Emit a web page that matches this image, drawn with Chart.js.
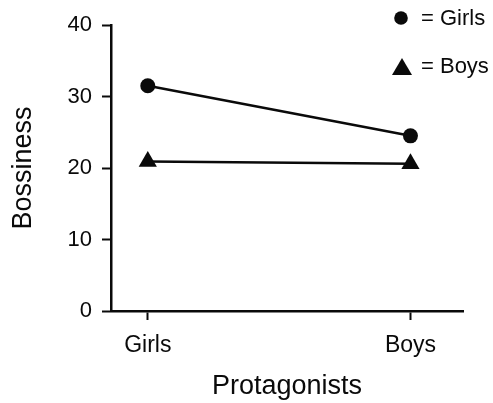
<!DOCTYPE html>
<html>
<head>
<meta charset="utf-8">
<title>Bossiness by protagonist</title>
<script src="https://cdn.jsdelivr.net/npm/chart.js@4/dist/chart.umd.min.js"></script>
<style>
  html, body { margin: 0; padding: 0; background: #fff; }
  #chart { display: block; }
</style>
</head>
<body>
<canvas id="chart" width="493" height="403"></canvas>
<script>
// ─── Data ─────────────────────────────────────────────────────────────────────
const protagonists = ['Girls', 'Boys'];
const girlsBossiness = [31.5, 24.5];
const boysBossiness = [20.9, 20.6];
const yTicks = [0, 10, 20, 30, 40];

const FONT = "'Liberation Sans', Arial, Helvetica, sans-serif";
const INK = '#0a0a0a';

function toPoints(values) {
    return values.map((v, i) => ({ x: i, y: v }));
}

// ─── Legend (drawn in the top-right corner) ──────────────────────────────────
const cornerLegend = {
    id: 'cornerLegend',
    afterDraw(chart) {
        const ctx = chart.ctx;
        ctx.save();
        ctx.fillStyle = INK;
        // circle = Girls
        ctx.beginPath();
        ctx.arc(401, 18, 6.8, 0, Math.PI * 2);
        ctx.fill();
        // triangle = Boys
        ctx.beginPath();
        ctx.moveTo(402, 58);
        ctx.lineTo(412, 75);
        ctx.lineTo(392, 75);
        ctx.closePath();
        ctx.fill();
        ctx.font = `22px ${FONT}`;
        ctx.textBaseline = 'middle';
        ctx.textAlign = 'left';
        ctx.fillText('= ' + chart.data.datasets[0].label, 421, 19);
        ctx.fillText('= ' + chart.data.datasets[1].label, 421, 67);
        ctx.restore();
    }
};

const whiteBg = {
    id: 'whiteBg',
    beforeDraw(chart) {
        const ctx = chart.ctx;
        ctx.save();
        ctx.fillStyle = '#fff';
        ctx.fillRect(0, 0, chart.width, chart.height);
        ctx.restore();
    }
};

// ─── Chart ────────────────────────────────────────────────────────────────────
const ctx = document.getElementById('chart').getContext('2d');
new Chart(ctx, {
    type: 'line',
    data: {
        datasets: [{
            label: 'Girls',
            data: toPoints(girlsBossiness),
            borderColor: INK,
            backgroundColor: INK,
            borderWidth: 2.5,
            pointStyle: 'circle',
            pointRadius: 7.5,
            pointBorderWidth: 0,
            pointBackgroundColor: INK
        }, {
            label: 'Boys',
            data: toPoints(boysBossiness),
            borderColor: INK,
            backgroundColor: INK,
            borderWidth: 2.5,
            pointStyle: 'triangle',
            pointRadius: 10.5,
            pointBorderWidth: 0,
            pointBackgroundColor: INK
        }]
    },
    options: {
        responsive: false,
        animation: false,
        devicePixelRatio: 1,
        layout: { padding: { left: 0, top: 25, right: 30, bottom: 0 } },
        plugins: {
            legend: { display: false },
            tooltip: { enabled: false }
        },
        scales: {
            x: {
                type: 'linear',
                min: -0.14,
                max: 1.2,
                afterBuildTicks: (scale) => {
                    scale.ticks = protagonists.map((_, i) => ({ value: i }));
                },
                afterFit: (scale) => { scale.height = 92; },
                ticks: {
                    callback: (v) => protagonists[v],
                    color: INK,
                    font: { family: FONT, size: 23 },
                    padding: 12,
                    maxRotation: 0
                },
                grid: {
                    drawOnChartArea: false,
                    drawTicks: true,
                    tickLength: 9,
                    tickWidth: 2,
                    tickColor: INK
                },
                border: { display: true, color: INK, width: 2.5 },
                title: {
                    display: true,
                    text: 'Protagonists',
                    color: INK,
                    font: { family: FONT, size: 27 },
                    padding: { top: 0, bottom: 0 }
                }
            },
            y: {
                min: 0,
                max: 40,
                afterBuildTicks: (scale) => {
                    scale.ticks = yTicks.map(v => ({ value: v }));
                },
                afterFit: (scale) => { scale.width = 111; },
                ticks: {
                    color: INK,
                    font: { family: FONT, size: 22 },
                    padding: 10
                },
                grid: {
                    drawOnChartArea: false,
                    drawTicks: true,
                    tickLength: 9,
                    tickWidth: 2,
                    tickColor: INK
                },
                border: { display: true, color: INK, width: 2.5 },
                title: {
                    display: true,
                    text: 'Bossiness',
                    color: INK,
                    font: { family: FONT, size: 27 },
                    padding: { top: 7, bottom: 0 }
                }
            }
        }
    },
    plugins: [whiteBg, cornerLegend]
});
</script>
</body>
</html>
